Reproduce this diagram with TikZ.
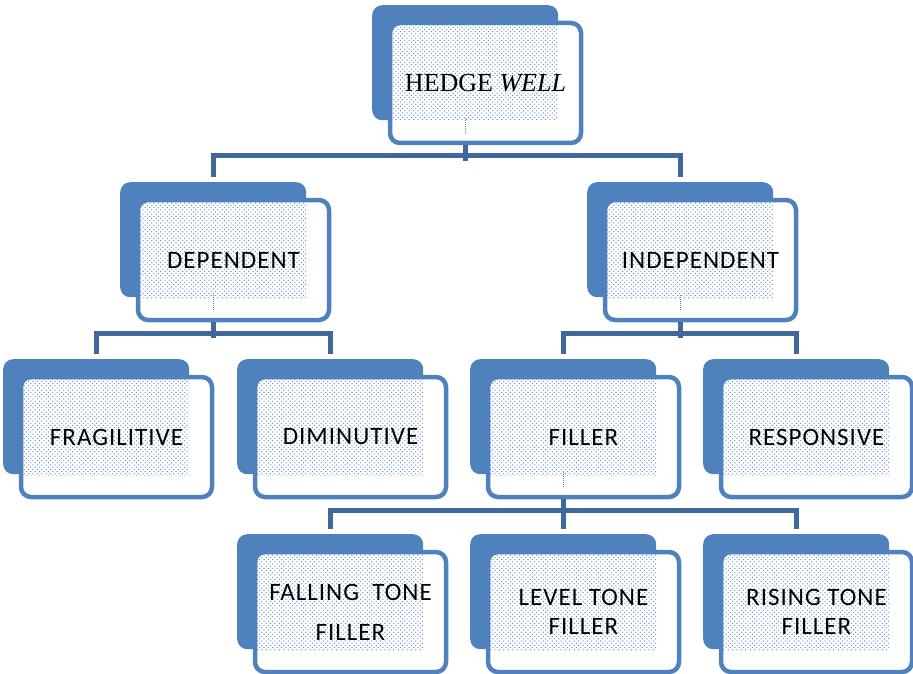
\documentclass[tikz,border=0pt]{standalone}
\usepackage{fontspec}
\setmainfont{Carlito}[LetterSpace=4]
\newfontfamily\tnr{Liberation Serif}
\usetikzlibrary{patterns.meta}
\definecolor{boxblue}{HTML}{4F81BD}
\definecolor{connblue}{HTML}{41689B}
\definecolor{dotblue}{HTML}{5585C4}
\tikzdeclarepattern{
  name=smdots, type=uncolored,
  bottom left={(-1pt,-1pt)}, top right={(3.4pt,3.4pt)},
  tile size={(4.4pt,4.4pt)},
  code={\fill (0,0) circle (0.65pt); \fill (2.2pt,2.2pt) circle (0.65pt);}
}
\tikzset{
  backbox/.style={rectangle, fill=boxblue, rounded corners=10pt, minimum width=186pt, minimum height=115pt, inner sep=0pt, anchor=north west},
  frontbox/.style={rectangle, draw=boxblue, line width=4.5pt, fill=white, rounded corners=10pt, minimum width=191pt, minimum height=120pt, inner sep=0pt},
  lbl/.style={font=\fontsize{25}{29}\selectfont, align=center, inner sep=0pt},
  conn/.style={draw=connblue, line width=5pt, line join=miter},
  artf/.style={draw=dotblue, line width=1pt, densely dotted}
}
\newcommand{\unitbox}[4]{%
  \node[backbox] (#1b) at (#2,#3) {};
  \node[frontbox] (#1f) at ({#2+113.5},{#3+78}) {};
  \fill[pattern=smdots, pattern color=dotblue] ({#2+20},{#3+20}) rectangle ({#2+186},{#3+116});
  \node[lbl] (#1) at (#1f.center) {#4};
}
\begin{document}
\begin{tikzpicture}[x=1pt,y=-1pt]
\useasboundingbox (0,0) rectangle (913,674);
\unitbox{hedge}{372}{5}{\fontsize{26}{30}\selectfont\tnr HEDGE \itshape WELL}
\unitbox{dep}{120}{182}{DEPENDENT}
\unitbox{ind}{587}{182}{INDEPENDENT}
\unitbox{frag}{3}{359}{FRAGILITIVE}
\unitbox{dim}{237}{359}{DIMINUTIVE}
\unitbox{fill}{470}{359}{FILLER}
\unitbox{resp}{703}{359}{RESPONSIVE}
\unitbox{fall}{237}{534}{FALLING\ \ TONE\\[11pt]FILLER}
\unitbox{lev}{470}{534}{LEVEL TONE\\FILLER}
\unitbox{ris}{703}{534}{RISING TONE\\FILLER}
% small dotted artefacts
\draw[artf] (hedgeb.south |- 0,118) -- (hedgeb.south |- 0,133);
\draw[artf] (depb.south |- 0,295) -- (depb.south |- 0,310);
\draw[artf] (indb.south |- 0,295) -- (indb.south |- 0,310);
\draw[artf] (fillb.south |- 0,472) -- (fillb.south |- 0,487);
% connectors
\draw[conn] (hedgeb.south |- hedgef.south) -- (hedgeb.south |- 0,161);
\draw[conn] ([yshift=5pt]depb.north) |- ([yshift=5pt]indb.north |- 0,161) -- ([yshift=5pt]indb.north);
\draw[conn] (depb.south |- depf.south) -- (depb.south |- 0,338);
\draw[conn] ([yshift=5pt]fragb.north) |- ([yshift=5pt]dimb.north |- 0,338) -- ([yshift=5pt]dimb.north);
\draw[conn] (indb.south |- indf.south) -- (indb.south |- 0,338);
\draw[conn] ([yshift=5pt]fillb.north) |- ([yshift=5pt]respb.north |- 0,338) -- ([yshift=5pt]respb.north);
\draw[conn] (fillb.south |- fillf.south) -- ([yshift=5pt]levb.north);
\draw[conn] ([yshift=5pt]fallb.north) |- ([yshift=5pt]risb.north |- 0,515) -- ([yshift=5pt]risb.north);
\end{tikzpicture}
\end{document}
